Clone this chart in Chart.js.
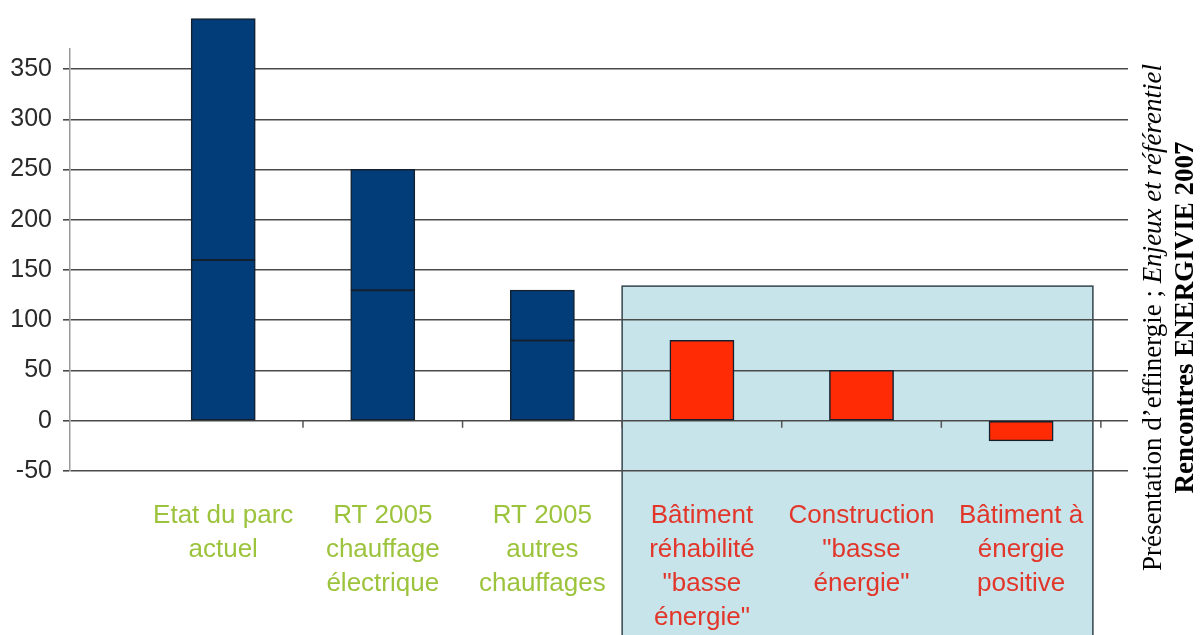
<!DOCTYPE html>
<html>
<head>
<meta charset="utf-8">
<script src="https://cdn.jsdelivr.net/npm/chart.js@4"></script>
<style>
  html, body { margin: 0; padding: 0; background: #fff; }
  #wrap { width: 1204px; height: 635px; }
</style>
</head>
<body>
<div id="wrap"><canvas id="chart" width="1204" height="635"></canvas></div>
<script>
// categories (multi-line labels as drawn under the bars)
const categories = [
  ['Etat du parc', 'actuel'],
  ['RT 2005', 'chauffage', 'électrique'],
  ['RT 2005', 'autres', 'chauffages'],
  ['Bâtiment', 'réhabilité', '"basse', 'énergie"'],
  ['Construction', '"basse', 'énergie"'],
  ['Bâtiment à', 'énergie', 'positive']
];
// lower part of each bar, and the part stacked on top of it
const lowerValues = [160, 130, 80, 80, 50, -20];
const upperValues = [240, 120, 50, null, null, null];
// y axis
const yMin = -50;
const yMax = 370;
const yStep = 50;
// shaded zone behind the last three bars (x in category units, top in kWh)
const zoneFrom = 3.5;
const zoneTo = 6.45;
const zoneTop = 134;
// side caption
const captionLine1 = ['Présentation d\u2019effinergie ; ', 'Enjeux et référentiel'];
const captionLine2 = 'Rencontres ENERGIVIE 2007';

const NAVY = '#033d79';
const RED = '#ff2b05';
const GREEN_TXT = '#9cc33c';
const RED_TXT = '#e2362a';

const toPoints = arr => arr.map((v, i) => ({ x: i + 1, y: v }));

const zonePlugin = {
  id: 'zone',
  beforeDraw(chart) {
    const { ctx } = chart;
    const x = chart.scales.x, y = chart.scales.y;
    const left = x.getPixelForValue(zoneFrom);
    const right = x.getPixelForValue(zoneTo);
    const top = y.getPixelForValue(zoneTop);
    ctx.save();
    ctx.fillStyle = '#c6e4ea';
    ctx.fillRect(left, top, right - left, chart.height - top + 2);
    ctx.strokeStyle = '#34444e';
    ctx.lineWidth = 1.5;
    ctx.strokeRect(left, top, right - left, chart.height - top + 4);
    ctx.restore();
  },
  beforeDatasetsDraw(chart) {
    // little tick marks on the zero line, between categories
    const { ctx } = chart;
    const x = chart.scales.x, y = chart.scales.y;
    const y0 = y.getPixelForValue(0);
    ctx.save();
    ctx.strokeStyle = '#555';
    ctx.lineWidth = 1.5;
    for (let i = 1; i < categories.length + 1; i++) {
      const px = x.getPixelForValue(i + 0.5);
      ctx.beginPath();
      ctx.moveTo(px, y0);
      ctx.lineTo(px, y0 + 7);
      ctx.stroke();
    }
    ctx.restore();
  },
  afterDraw(chart) {
    const { ctx, chartArea } = chart;
    const cy = chart.height / 2;
    ctx.save();
    ctx.fillStyle = '#000';
    ctx.textBaseline = 'alphabetic';
    // line 1: regular + italic
    ctx.translate(chartArea.right + 33, cy);
    ctx.rotate(-Math.PI / 2);
    const reg = '27px "Liberation Serif", "Times New Roman", serif';
    const ita = 'italic 27px "Liberation Serif", "Times New Roman", serif';
    ctx.font = reg;
    const w1 = ctx.measureText(captionLine1[0]).width;
    ctx.font = ita;
    const w2 = ctx.measureText(captionLine1[1]).width;
    let sx = -(w1 + w2) / 2;
    ctx.font = reg;
    ctx.fillText(captionLine1[0], sx, 0);
    ctx.font = ita;
    ctx.fillText(captionLine1[1], sx + w1, 0);
    // line 2: bold
    ctx.font = 'bold 27px "Liberation Serif", "Times New Roman", serif';
    ctx.textAlign = 'center';
    ctx.fillText(captionLine2, 0, 32);
    ctx.restore();
  }
};

const barColor = ctx => (ctx.raw && ctx.raw.x <= 3 ? NAVY : RED);

new Chart(document.getElementById('chart'), {
  type: 'bar',
  data: {
    datasets: [
      {
        label: 'base',
        data: toPoints(lowerValues),
        backgroundColor: barColor,
        borderColor: '#13202f',
        borderWidth: 1.5,
        borderSkipped: false,
        inflateAmount: 0.5,
        barPercentage: 0.4,
        categoryPercentage: 1,
        clip: false
      },
      {
        label: 'haut',
        data: toPoints(upperValues),
        backgroundColor: NAVY,
        borderColor: '#13202f',
        borderWidth: 1.5,
        borderSkipped: false,
        inflateAmount: 0.5,
        barPercentage: 0.4,
        categoryPercentage: 1,
        clip: false
      }
    ]
  },
  options: {
    responsive: false,
    animation: false,
    layout: { padding: { top: 49, right: 76, left: 0, bottom: 0 } },
    plugins: { legend: { display: false }, tooltip: { enabled: false } },
    scales: {
      x: {
        type: 'linear',
        stacked: true,
        offset: false,
        min: 0.04,
        max: 6.67,
        grid: { display: false, drawTicks: false },
        border: { display: false },
        afterBuildTicks: scale => {
          scale.ticks = categories.map((c, i) => ({ value: i + 1 }));
        },
        afterFit: scale => { scale.height = 164; },
        ticks: {
          autoSkip: false,
          maxRotation: 0,
          padding: 28,
          font: { family: '"Liberation Sans", Arial, sans-serif', size: 26, lineHeight: 1.31 },
          color: ctx => (ctx.tick && ctx.tick.value <= 3 ? GREEN_TXT : RED_TXT),
          callback: value => categories[value - 1] || ''
        }
      },
      y: {
        stacked: true,
        min: yMin,
        max: yMax,
        grid: { color: '#4a4a4a', lineWidth: 1.6, tickLength: 7 },
        border: { color: '#9a9a9a', width: 1.5 },
        afterFit: scale => { scale.width = 70; },
        ticks: {
          stepSize: yStep,
          includeBounds: false,
          padding: 11,
          color: '#2a2a2a',
          font: { family: '"Liberation Sans", Arial, sans-serif', size: 25 }
        }
      }
    }
  },
  plugins: [zonePlugin]
});
</script>
</body>
</html>
